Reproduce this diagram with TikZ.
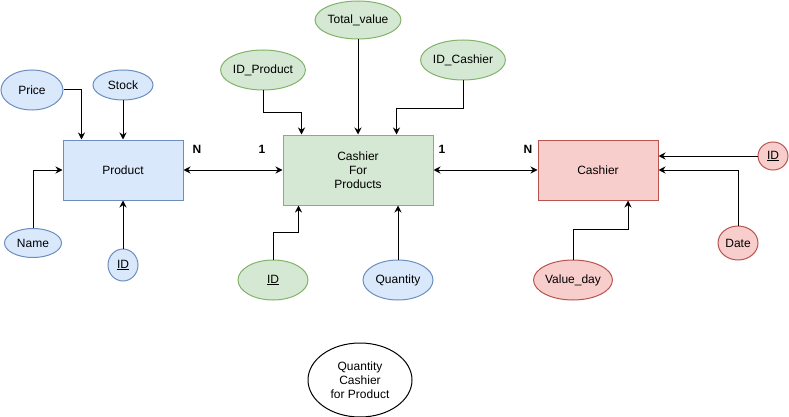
\documentclass[tikz,border=0pt]{standalone}
\usepackage{fontspec}
\setmainfont{Liberation Sans}
\definecolor{erBlue}{HTML}{DAE8FC}
\definecolor{erBlueLine}{HTML}{6C8EBF}
\definecolor{erGreen}{HTML}{D5E8D4}
\definecolor{erGreenLine}{HTML}{82B366}
\definecolor{erRed}{HTML}{F8CECC}
\definecolor{erRedLine}{HTML}{B85450}
\usepackage{tikz}
\usetikzlibrary{arrows.meta,positioning,shapes.geometric}

\begin{document}
\begin{tikzpicture}[x=1pt, y=-1pt,
  ent/.style={draw, line width=1pt, minimum width=120pt, minimum height=60pt,
              align=center, font=\fontsize{12}{14}\selectfont},
  attr/.style={draw, ellipse, line width=1pt, inner sep=0pt, align=center,
               font=\fontsize{12}{14}\selectfont},
  blueset/.style={fill=erBlue, draw=erBlueLine},
  greenset/.style={fill=erGreen, draw=erGreenLine},
  redset/.style={fill=erRed, draw=erRedLine},
  link/.style={-{Stealth[length=7pt,width=7pt]}, line width=1pt},
  dlink/.style={{Stealth[length=7pt,width=7pt]}-{Stealth[length=7pt,width=7pt]}, line width=1pt},
  card/.style={font=\fontsize{12}{14}\selectfont\bfseries}
]
  \useasboundingbox (0,0) rectangle (789,417);

  % entities
  \node[ent, blueset]  (product) at (123,170) {Product};
  \node[ent, greenset, minimum width=150pt, minimum height=70pt]
                       (cfp)     at (358,170) {Cashier\\For\\Products};
  \node[ent, redset]   (cashier) at (598,170) {Cashier};

  % product attributes
  \node[attr, blueset, minimum width=62pt, minimum height=40pt] (price) at (32,90)  {Price};
  \node[attr, blueset, minimum width=60pt, minimum height=30pt] (stock) at (123,85) {Stock};
  \node[attr, blueset, minimum width=57pt, minimum height=29pt] (pname) at (33,243) {Name};
  \node[attr, blueset, minimum width=30pt, minimum height=32pt] (pid)   at (123,265) {\underline{ID}};

  % relation attributes
  \node[attr, greenset, minimum width=80pt, minimum height=40pt] (idprod) at (263,70)  {ID\_Product};
  \node[attr, greenset, minimum width=80pt, minimum height=38pt] (total)  at (358,20)  {Total\_value};
  \node[attr, greenset, minimum width=70pt, minimum height=40pt] (idcash) at (463,60)  {ID\_Cashier};
  \node[attr, greenset, minimum width=70pt, minimum height=40pt] (cfpid)  at (273,280) {\underline{ID}};
  \node[attr, blueset,  minimum width=70pt, minimum height=40pt] (qty)    at (398,280) {Quantity};

  % cashier attributes
  \node[attr, redset, minimum width=30pt, minimum height=28pt] (cid)  at (773,156) {\underline{ID}};
  \node[attr, redset, minimum width=40pt, minimum height=34pt] (date) at (738,243) {Date};
  \node[attr, redset, minimum width=70pt, minimum height=40pt] (vday) at (573,280) {Value\_day};

  \node[attr, fill=white, draw=black, minimum width=104pt, minimum height=74pt]
       (qcp) at (360,380) {Quantity\\Cashier\\for Product};

  % cardinalities
  \node[card] (cardA) at (197,149) {N};
  \node[card] (cardB) at (262,149) {1};
  \node[card] (cardC) at (442,149) {1};
  \node[card] (cardD) at (528,149) {N};

  % connectors
  \draw[link] (price.east) -| ([xshift=19pt]product.north west);
  \draw[link] (stock.south) -- (product.north);
  \draw[link] (pname.north) |- (product.west);
  \draw[link] (pid.north) -- (product.south);

  \draw[link] (idprod.south) |- ++(0,22) -| ([xshift=19pt]cfp.north west);
  \draw[link] (total.south) -- (cfp.north);
  \draw[link] (idcash.south) |- ++(0,28) -| ([xshift=-37pt]cfp.north east);
  \draw[link] (cfpid.north) |- ++(0,-27) -| ([xshift=16pt]cfp.south west);
  \draw[link] (qty.north) -- (qty.north |- cfp.south);

  \draw[dlink] (product.east) -- (cfp.west);
  \draw[dlink] (cfp.east) -- (cashier.west);

  \draw[link] (cid.west) -- (cid.west -| cashier.east);
  \draw[link] (date.north) |- (cashier.east);
  \draw[link] (vday.north) |- ++(0,-30) -| ([xshift=30pt]cashier.south);
\end{tikzpicture}
\end{document}
